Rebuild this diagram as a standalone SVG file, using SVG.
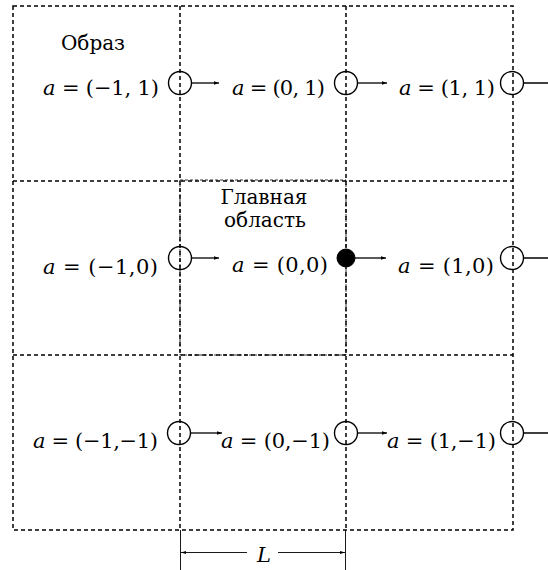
<svg xmlns="http://www.w3.org/2000/svg" width="548" height="570" viewBox="0 0 548 570">
<style>
.grid{fill:none;stroke:#000;stroke-width:1.5;stroke-dasharray:4 3}
.main{fill:none;stroke:#000;stroke-width:0.8;stroke-dasharray:3 2}
.ring{fill:none;stroke:#000;stroke-width:1.4}
.dot{fill:#000;stroke:#000;stroke-width:1}
.arr{stroke:#000;stroke-width:1.3;fill:none;marker-end:url(#ah)}
.dim{stroke:#000;stroke-width:0.9;fill:none}
text{font-family:'DejaVu Serif',serif;fill:#000}
.lbl{font-size:21px}
.ru{font-size:20px}
.it{font-style:italic}
</style>
<defs>
<marker id="ah" markerWidth="6" markerHeight="6" refX="5" refY="3" orient="auto" markerUnits="userSpaceOnUse">
<path d="M0,1.2 L5,3 L0,4.8 Z" fill="#000"/>
</marker>
<marker id="dh" markerWidth="6" markerHeight="6" refX="5" refY="3" orient="auto" markerUnits="userSpaceOnUse">
<path d="M0,1.5 L5,3 L0,4.5 Z" fill="#000"/>
</marker>
</defs>
<rect width="548" height="570" fill="#fff"/>
<g id="grid">
<rect class="grid" x="13" y="6" width="500" height="524"/>
<line class="grid" x1="180" y1="6" x2="180" y2="530"/>
<line class="grid" x1="346" y1="6" x2="346" y2="530"/>
<line class="grid" x1="13" y1="181" x2="513" y2="181"/>
<line class="grid" x1="13" y1="355" x2="513" y2="355"/>
</g>
<g id="main-region">
<rect class="main" x="180" y="180" width="166" height="175"/>
<text class="ru" x="264" y="204" text-anchor="middle">Главная</text>
<text class="ru" x="265" y="227" text-anchor="middle">область</text>
</g>
<g id="image-label">
<text class="ru" x="93" y="50" text-anchor="middle">Образ</text>
</g>
<g id="connectors">
<line class="arr" x1="191" y1="83" x2="219" y2="83"/>
<line class="arr" x1="357" y1="83" x2="387" y2="83"/>
<line class="arr" x1="523" y1="83" x2="556" y2="83"/>
<line class="arr" x1="191" y1="258" x2="219" y2="258"/>
<line class="arr" x1="355" y1="258" x2="386" y2="258"/>
<line class="arr" x1="523" y1="258" x2="556" y2="258"/>
<line class="arr" x1="191" y1="433" x2="222" y2="433"/>
<line class="arr" x1="357" y1="433" x2="387" y2="433"/>
<line class="arr" x1="523" y1="433" x2="556" y2="433"/>
</g>
<g id="row-top">
<circle class="ring" cx="180" cy="83" r="11.5"/>
<circle class="ring" cx="346" cy="83" r="11.5"/>
<circle class="ring" cx="512" cy="83" r="11.5"/>
<text class="lbl" x="43" y="95" textLength="116" lengthAdjust="spacing"><tspan class="it">a</tspan> = (−1, 1)</text>
<text class="lbl" x="232" y="95" textLength="93" lengthAdjust="spacing"><tspan class="it">a</tspan> = (0, 1)</text>
<text class="lbl" x="399" y="95" textLength="96" lengthAdjust="spacing"><tspan class="it">a</tspan> = (1, 1)</text>
</g>
<g id="row-mid">
<circle class="ring" cx="180" cy="258" r="11.5"/>
<circle class="dot" cx="346" cy="258" r="9"/>
<circle class="ring" cx="512" cy="258" r="11.5"/>
<text class="lbl" x="43" y="274" textLength="115" lengthAdjust="spacing"><tspan class="it">a</tspan> = (−1,0)</text>
<text class="lbl" x="232" y="272" textLength="96" lengthAdjust="spacing"><tspan class="it">a</tspan> = (0,0)</text>
<text class="lbl" x="398" y="273" textLength="96" lengthAdjust="spacing"><tspan class="it">a</tspan> = (1,0)</text>
</g>
<g id="row-bottom">
<circle class="ring" cx="179" cy="433" r="11.5"/>
<circle class="ring" cx="346" cy="433" r="11.5"/>
<circle class="ring" cx="512" cy="433" r="11.5"/>
<text class="lbl" x="33" y="448" textLength="125" lengthAdjust="spacing"><tspan class="it">a</tspan> = (−1,−1)</text>
<text class="lbl" x="221" y="448" textLength="109" lengthAdjust="spacing"><tspan class="it">a</tspan> = (0,−1)</text>
<text class="lbl" x="387" y="448" textLength="109" lengthAdjust="spacing"><tspan class="it">a</tspan> = (1,−1)</text>
</g>
<g id="dimension">
<line class="dim" x1="180.5" y1="530" x2="180.5" y2="570"/>
<line class="dim" x1="345.5" y1="530" x2="345.5" y2="570"/>
<line class="dim" x1="247" y1="552.5" x2="181" y2="552.5" marker-end="url(#dh)" stroke-width="1.3"/>
<line class="dim" x1="278" y1="552.5" x2="345" y2="552.5" marker-end="url(#dh)" stroke-width="1.3"/>
<text class="lbl it" x="264" y="562" text-anchor="middle" font-size="23">L</text>
</g>
</svg>
